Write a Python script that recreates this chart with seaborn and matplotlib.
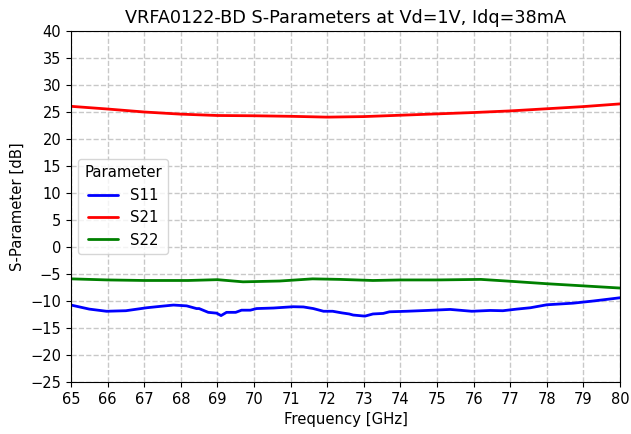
import pandas as pd
import matplotlib
matplotlib.use('Agg')
import matplotlib.pyplot as plt
import seaborn as sns

# values
s11_freq = [65.0, 65.5, 65.97, 66.5, 67.07, 67.5, 67.8, 68.16, 68.43, 68.5, 68.75, 68.98, 69.1, 69.25,
            69.5, 69.66, 69.9, 70.07, 70.53, 71.07, 71.35, 71.62, 71.9, 72.15, 72.4, 72.6, 72.71,
            73.03, 73.25, 73.53, 73.7, 74.17, 74.72, 75.36, 75.95, 76.45, 76.8, 77.18, 77.55,
            78.0, 78.72, 79.27, 80.0]
s11_db = [-10.75, -11.5, -11.9, -11.8, -11.25, -10.95, -10.75, -10.9, -11.4, -11.4, -12.1, -12.25, -12.7, -12.1,
          -12.1, -11.7, -11.7, -11.4, -11.3, -11.06, -11.1, -11.4, -11.9, -11.9, -12.2, -12.4, -12.6,
          -12.8, -12.4, -12.3, -12.0, -11.9, -11.75, -11.56, -11.9, -11.75, -11.8, -11.5, -11.25,
          -10.7, -10.4, -10.0, -9.4]

s21_freq = [65.0, 66.0, 67.0, 68.0, 69.0, 70.0, 71.0, 72.0, 73.0, 74.0, 75.0, 76.0, 77.0, 78.0, 79.0, 80.0]
s21_db = [26.05, 25.55, 25.0, 24.6, 24.35, 24.3, 24.2, 24.05, 24.15, 24.4, 24.65, 24.9, 25.2, 25.6, 26.0, 26.5]

s22_freq = [65.0, 66.0, 67.0, 68.2, 69.0, 69.7, 70.7, 71.6, 72.35, 73.25, 74.0, 75.0, 76.2, 76.9,
            78.0, 79.0, 80.0]
s22_db = [-5.9, -6.1, -6.2, -6.2, -6.05, -6.45, -6.3, -5.9, -6.0, -6.2, -6.1, -6.1, -6.0, -6.3,
          -6.8, -7.2, -7.6]

frames = []
for name, f, v in [('S11', s11_freq, s11_db), ('S21', s21_freq, s21_db), ('S22', s22_freq, s22_db)]:
    frames.append(pd.DataFrame({'Frequency': f, 'Value': v, 'Parameter': name}))
df = pd.concat(frames, ignore_index=True)

sns.set_style('ticks', {'axes.grid': True, 'grid.linestyle': '--', 'grid.color': '#c8c8c8',
                        'axes.edgecolor': 'black', 'text.color': 'black',
                        'axes.labelcolor': 'black', 'xtick.color': 'black', 'ytick.color': 'black'})

fig, ax = plt.subplots(figsize=(6.31, 4.34), dpi=100)
sns.lineplot(data=df, x='Frequency', y='Value', hue='Parameter',
             palette={'S11': 'blue', 'S21': 'red', 'S22': 'green'}, linewidth=2, ax=ax)

ax.set_xlim(65, 80)
ax.set_ylim(-25, 40)
ax.set_xticks(range(65, 81))
ax.set_yticks(range(-25, 41, 5))
ax.grid(True, linestyle='--', color='#c8c8c8', linewidth=1)
ax.set_title('VRFA0122-BD S-Parameters at Vd=1V, Idq=38mA', fontsize=12.7)
ax.set_xlabel('Frequency [GHz]', fontsize=10.7)
ax.set_ylabel('S-Parameter [dB]', fontsize=10.7)
ax.tick_params(labelsize=10.5)
ax.legend(title='Parameter', loc='center left', fontsize=10.7, title_fontsize=10.7)

fig.subplots_adjust(left=0.1125, right=0.9826, top=0.9286, bottom=0.1198)
fig.savefig('out.png', dpi=100)
